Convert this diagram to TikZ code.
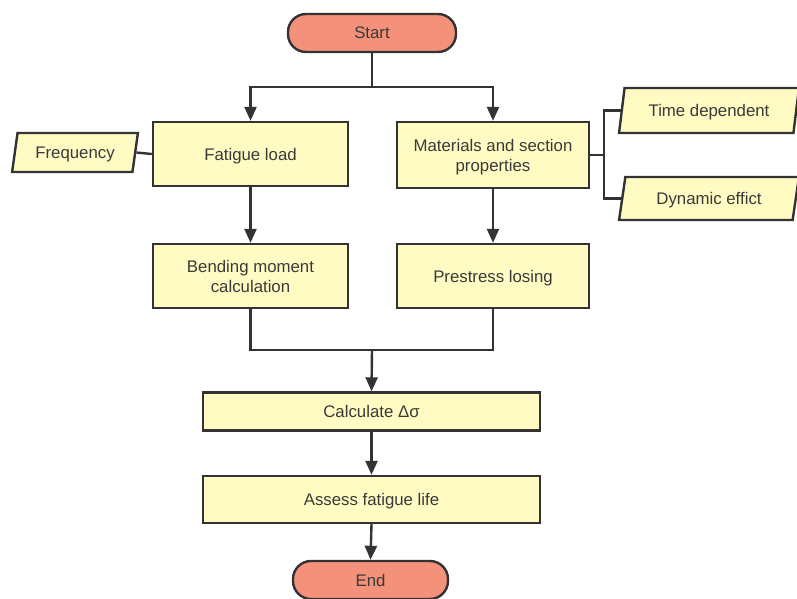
\documentclass[tikz,border=0pt]{standalone}
\usepackage{fontspec}
\setmainfont{Liberation Sans}
\usetikzlibrary{arrows.meta,shapes.geometric}
\definecolor{boxfill}{HTML}{FFFBC2}
\definecolor{termfill}{HTML}{F4917A}
\definecolor{ink}{HTML}{333333}
\definecolor{txt}{HTML}{3A3A3A}
\begin{document}
\begin{tikzpicture}[x=1pt,y=-1pt,
 every node/.style={font=\fontsize{16.8}{20}\selectfont, text=txt, text depth=0pt},
 proc/.style={draw=ink, line width=2.4pt, fill=boxfill, rectangle, align=center, inner sep=0pt},
 term/.style={draw=ink, line width=2.4pt, fill=termfill, rectangle, rounded corners=18pt, inner sep=0pt},
 io/.style={draw=ink, line width=2.4pt, fill=boxfill, trapezium, trapezium left angle=72, trapezium right angle=108, trapezium stretches=true, inner sep=0pt},
 conn/.style={draw=ink, line width=2.4pt},
 arr/.style={conn, -{Triangle[length=14pt,width=12pt]}}
]
\useasboundingbox (0,0) rectangle (797,598);
\node[term, minimum width=168pt, minimum height=38pt] (start) at (372,33) {Start};
\node[proc, minimum width=195pt, minimum height=64pt] (fat) at (250.5,154) {Fatigue load};
\node[proc, minimum width=192pt, minimum height=66pt] (mat) at (493,155) {Materials and section\\properties};
\node[proc, minimum width=195pt, minimum height=64pt] (bend) at (250.5,276) {Bending moment\\calculation};
\node[proc, minimum width=192pt, minimum height=64pt] (pre) at (493,276) {Prestress losing};
\node[proc, minimum width=337pt, minimum height=38pt] (calc) at (371.5,411.5) {Calculate Δσ};
\node[proc, minimum width=337pt, minimum height=47pt] (assess) at (371.5,499.5) {Assess fatigue life};
\node[term, minimum width=155pt, minimum height=38pt] (end) at (370.5,580) {End};
\node[io, minimum width=126pt, minimum height=39pt] (freq) at (75,152.5) {Frequency};
\node[io, minimum width=180pt, minimum height=45pt] (td) at (709,110.5) {Time dependent};
\node[io, minimum width=180pt, minimum height=43pt] (de) at (709,198.5) {Dynamic effict};
\coordinate (s1) at (372,87);
\coordinate (m1) at (372,350);
\coordinate (j) at (604,155);
\draw[conn] (start.south) -- (s1);
\draw[arr] (s1) -| (fat.north);
\draw[arr] (s1) -| (mat.north);
\draw[conn] (freq.east) -- (fat.west);
\draw[arr] (fat.south) -- (bend.north);
\draw[arr] (mat.south) -- (pre.north);
\draw[conn] (bend.south) |- (m1);
\draw[conn] (pre.south) |- (m1);
\draw[arr] (m1) -- (calc.north);
\draw[arr] (calc.south) -- (assess.north);
\draw[arr] (assess.south) -- (end.north);
\draw[conn] (mat.east) -- (j);
\draw[conn] (td.west) -| (j) |- (de.west);
\end{tikzpicture}
\end{document}
